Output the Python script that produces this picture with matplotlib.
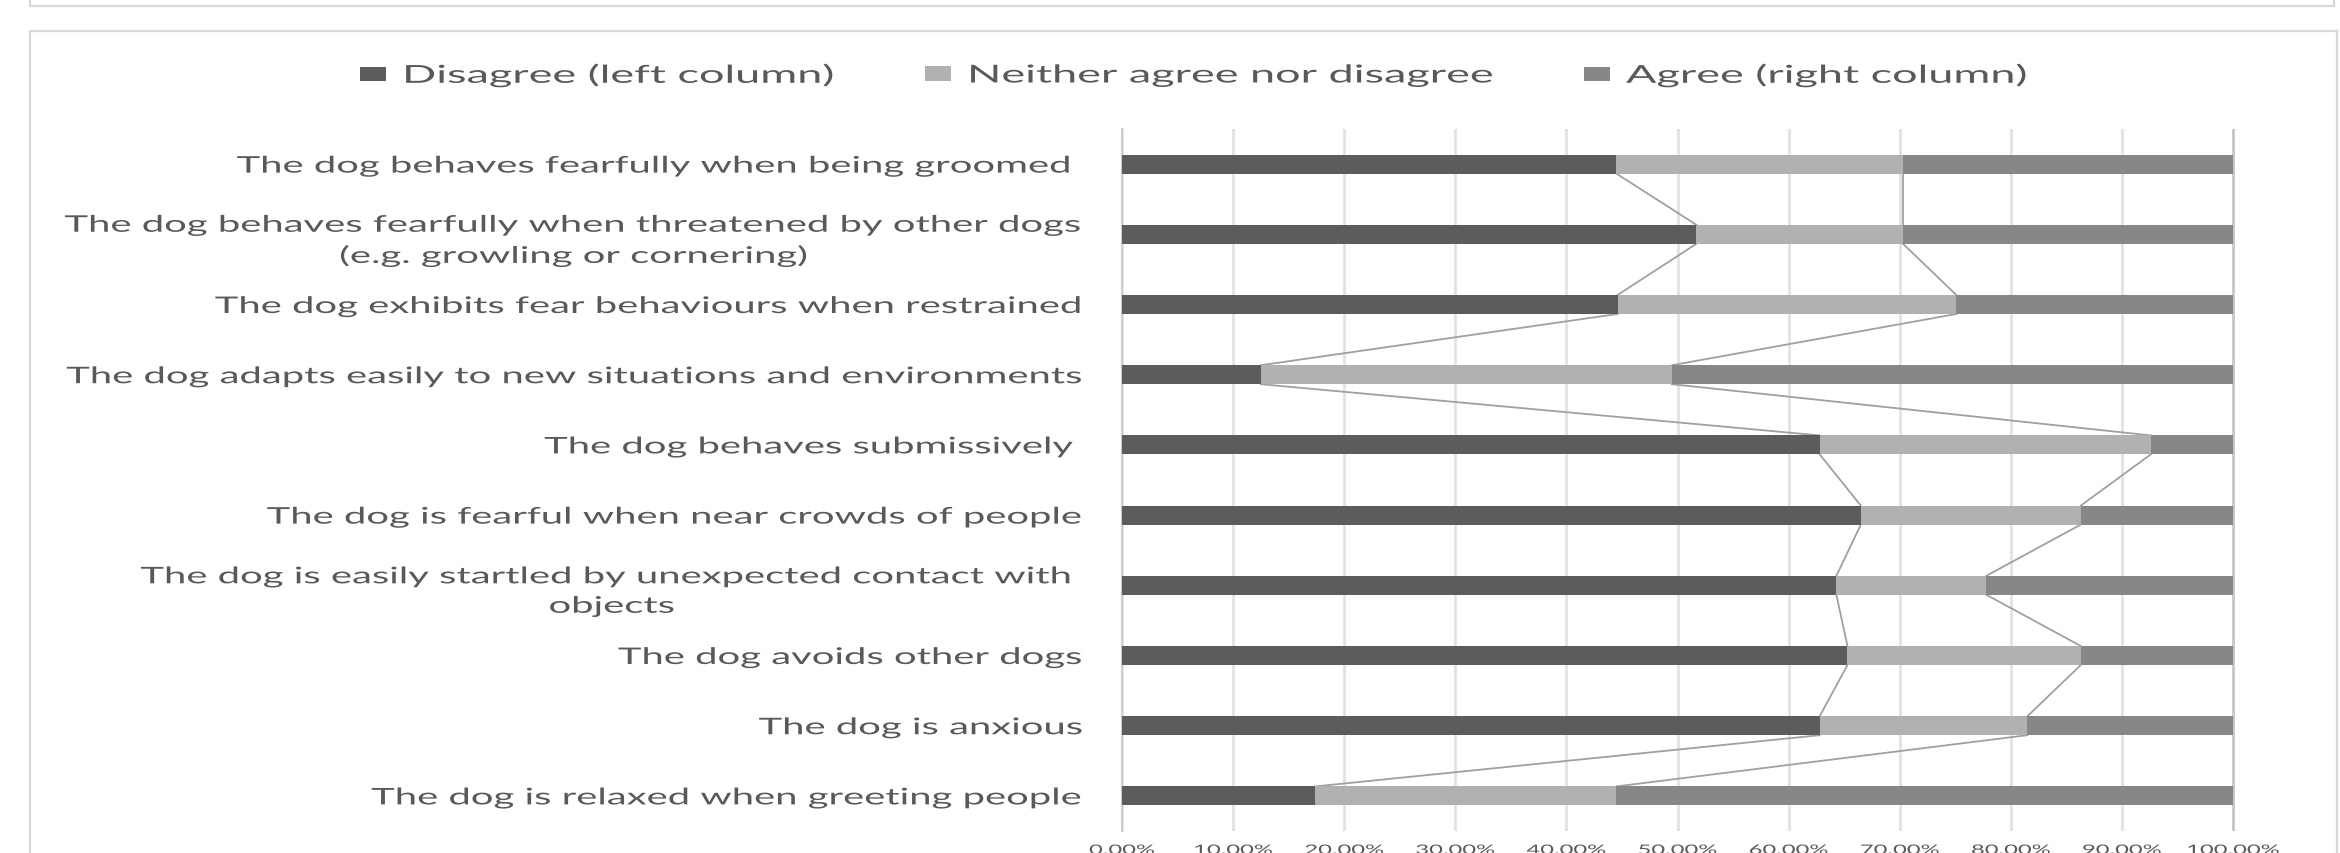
import matplotlib
matplotlib.use("Agg")
import matplotlib.pyplot as plt
import numpy as np
from matplotlib.patheffects import AbstractPathEffect
from matplotlib.transforms import Affine2D
from matplotlib.lines import Line2D
from matplotlib.patches import Patch

# ---------------- data ----------------
categories = [
    "The dog behaves fearfully when being groomed ",
    "The dog behaves fearfully when threatened by other dogs\n(e.g. growling or cornering)",
    "The dog exhibits fear behaviours when restrained",
    "The dog adapts easily to new situations and environments",
    "The dog behaves submissively ",
    "The dog is fearful when near crowds of people",
    "The dog is easily startled by unexpected contact with \nobjects",
    "The dog avoids other dogs",
    "The dog is anxious",
    "The dog is relaxed when greeting people",
]
disagree = [44.5, 51.7, 44.6, 12.5, 62.8, 66.5, 64.3, 65.3, 62.8, 17.4]
neither = [25.8, 18.6, 30.5, 37.0, 29.8, 19.8, 13.5, 21.0, 18.7, 27.1]
agree = [29.7, 29.7, 24.9, 50.5, 7.4, 13.7, 22.2, 13.7, 18.5, 55.5]
series_names = ["Disagree (left column)", "Neither agree nor disagree", "Agree (right column)"]
x_ticks = [0, 10, 20, 30, 40, 50, 60, 70, 80, 90, 100]
x_tick_labels = ["0.00%", "10.00%", "20.00%", "30.00%", "40.00%", "50.00%",
                 "60.00%", "70.00%", "80.00%", "90.00%", "100.00%"]

# ---------------- style ----------------
C_DIS = "#5c5c5c"
C_NEI = "#b1b1b1"
C_AGR = "#878787"
TXT = "#595959"
GRID = "#e2e2e2"
BOX = "#d9d9d9"
FONT = "Lato"

W, H = 2340, 854
fig = plt.figure(figsize=(W / 100, H / 100), dpi=100)
fig.patch.set_facecolor("white")


class StretchX(AbstractPathEffect):
    """Draw a text stretched horizontally about one edge of its box."""

    def __init__(self, text, sx, mode):
        super().__init__()
        self.text = text
        self.sx = sx
        self.mode = mode

    def draw_path(self, renderer, gc, tpath, affine, rgbFace=None):
        bb = self.text.get_window_extent(renderer)
        x0 = {"left": bb.x0, "right": bb.x1, "center": 0.5 * (bb.x0 + bb.x1)}[self.mode]
        t = affine + Affine2D().translate(-x0, 0).scale(self.sx, 1).translate(x0, 0)
        renderer.draw_path(gc, tpath, t, rgbFace)


def fx(px):
    return px / W


def fy(py):
    return 1 - py / H


# axes placement
x0p, x100p = 1122, 2233
xr = 100.5
right_px = x0p + (x100p - x0p) * xr / 100
top_px, bot_px = 130, 832
ax = fig.add_axes([fx(x0p), fy(bot_px), fx(right_px) - fx(x0p), (bot_px - top_px) / H])

y = np.arange(len(categories))
h = 0.27
dis = np.array(disagree)
nei = np.array(neither)
agr = np.array(agree)

ax.barh(y, dis, height=h, color=C_DIS, label=series_names[0], zorder=3)
ax.barh(y, nei, left=dis, height=h, color=C_NEI, label=series_names[1], zorder=3)
ax.barh(y, agr, left=dis + nei, height=h, color=C_AGR, label=series_names[2], zorder=3)

# series lines between consecutive bars
cum1 = dis
cum2 = dis + nei
for i in range(len(categories) - 1):
    ax.plot([cum1[i], cum1[i + 1]], [y[i] + h / 2, y[i + 1] - h / 2], color="#a0a0a0", lw=1.3, zorder=2)
    ax.plot([cum2[i], cum2[i + 1]], [y[i] + h / 2, y[i + 1] - h / 2], color="#a0a0a0", lw=1.3, zorder=2)

ax.set_xlim(0, xr)
ax.set_ylim(len(categories) - 0.5, -0.5)

ax.set_xticks(x_ticks)
ax.set_xticklabels(x_tick_labels)
ax.set_yticks(y)
ax.set_yticklabels(categories)

ax.grid(axis="x", color=GRID, lw=2.0, zorder=0)
ax.set_axisbelow(True)
ax.xaxis.get_gridlines()[-1].set_color("#c6c6c6")
for s in ["top", "right", "bottom"]:
    ax.spines[s].set_visible(False)
ax.spines["left"].set_color("#cfcfcf")
ax.spines["left"].set_linewidth(1.5)

ax.tick_params(axis="y", length=0, pad=28, labelsize=16.5, labelcolor=TXT)
ax.tick_params(axis="x", length=0, pad=9.4, labelsize=9.5, labelcolor=TXT)

for t in ax.yaxis.get_major_ticks():
    lab = t.label1
    lab.set_fontfamily(FONT)
    lab.set_multialignment("center")
    lab.set_linespacing(1.5)
    lab.set_path_effects([StretchX(lab, 1.745, "right")])
for t in ax.xaxis.get_major_ticks():
    lab = t.label1
    lab.set_fontfamily(FONT)
    lab.set_path_effects([StretchX(lab, 1.8, "center")])

# legend: one entry per block, placed like the original
handles = [Patch(facecolor=c) for c in (C_DIS, C_NEI, C_AGR)]
marker_px = [360, 925, 1584]
for hd, name, mx in zip(handles, series_names, marker_px):
    lg = fig.legend(handles=[hd], labels=[name], loc="center left",
                    bbox_to_anchor=(fx(mx), fy(76)), bbox_transform=fig.transFigure,
                    frameon=False, borderpad=0, borderaxespad=0,
                    handlelength=1.05, handleheight=0.55, handletextpad=0.65,
                    prop={"family": FONT, "size": 17.8})
    for txt in lg.get_texts():
        txt.set_color(TXT)
        txt.set_path_effects([StretchX(txt, 1.82, "left")])

# frames of the surrounding boxes
lw_box = 1.6
fig.add_artist(Line2D([fx(30), fx(2334)], [fy(7), fy(7)], color=BOX, lw=lw_box, transform=fig.transFigure))
fig.add_artist(Line2D([fx(30), fx(30)], [fy(-2), fy(7)], color=BOX, lw=lw_box, transform=fig.transFigure))
fig.add_artist(Line2D([fx(2334), fx(2334)], [fy(-2), fy(7)], color=BOX, lw=lw_box, transform=fig.transFigure))
fig.add_artist(Line2D([fx(30), fx(2337)], [fy(32), fy(32)], color=BOX, lw=lw_box, transform=fig.transFigure))
fig.add_artist(Line2D([fx(30), fx(30)], [fy(32), fy(H + 5)], color=BOX, lw=lw_box, transform=fig.transFigure))
fig.add_artist(Line2D([fx(2337), fx(2337)], [fy(32), fy(H + 5)], color=BOX, lw=lw_box, transform=fig.transFigure))

fig.savefig("out.png", dpi=100, facecolor="white")
